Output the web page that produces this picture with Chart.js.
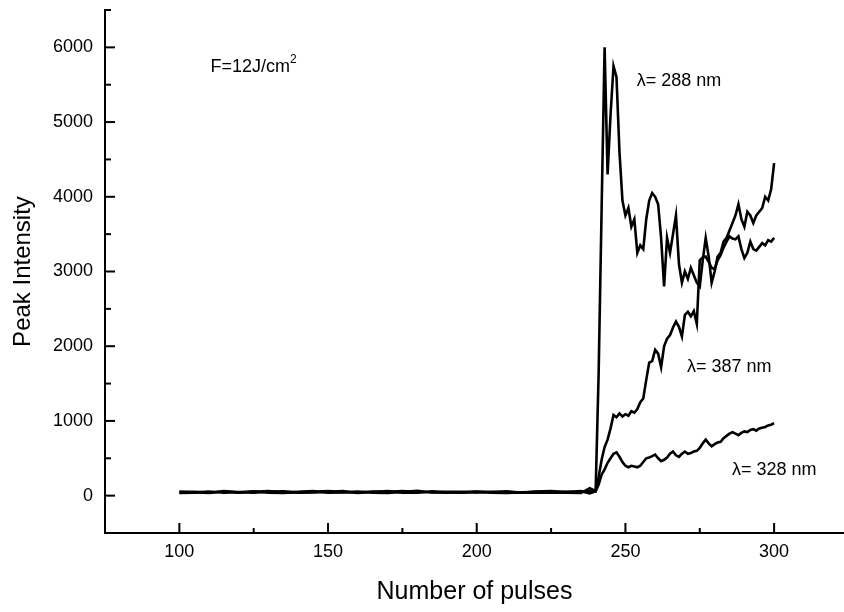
<!DOCTYPE html>
<html lang="en">
<head>
<meta charset="UTF-8">
<title>Peak Intensity vs Number of pulses</title>
<style>
    body { margin: 0; padding: 0; background: #fff; }
    #wrap { width: 844px; height: 612px; }
</style>
<script src="https://cdn.jsdelivr.net/npm/chart.js"></script>
</head>
<body>
<div id="wrap"><canvas id="chart" width="844" height="612"></canvas></div>
<script>
// pulse numbers (sparse on the flat part, every pulse after the onset)
const pulses = [100,105,110,115,120,125,130,135,140,145,150,155,160,165,170,175,180,185,190,195,
    200,205,210,215,220,225,230,235,238,
    240,241,242,243,244,245,246,247,248,249,250,251,252,253,254,255,256,257,258,259,
    260,261,262,263,264,265,266,267,268,269,270,271,272,273,274,275,276,277,278,279,
    280,281,282,283,284,285,286,287,288,289,290,291,292,293,294,295,296,297,298,299,300];

const peak288 = [45,50,42,55,48,40,52,58,45,50,60,47,42,55,50,62,48,45,53,50,
    44,52,48,46,50,45,52,48,60,
    80,1650,3850,6000,4300,5100,5750,5600,4600,3950,3750,3850,3600,3700,3250,3350,3300,3700,3950,4050,
    4000,3900,3450,2800,3450,3250,3500,3750,3100,2850,3000,2900,3050,2950,2850,2800,3150,3450,3200,2850,
    3000,3200,3250,3400,3450,3550,3650,3750,3900,3700,3600,3800,3750,3650,3750,3800,3850,4000,3950,4100,4450];

const peak387 = [35,40,55,38,45,58,40,35,50,62,38,44,56,40,35,48,65,42,38,45,
    55,40,36,44,38,42,40,35,100,
    60,250,480,650,750,900,1080,1050,1100,1060,1090,1070,1130,1110,1160,1250,1300,1550,1780,1800,
    1950,1900,1720,2000,2100,2150,2250,2330,2260,2130,2420,2460,2400,2470,2300,3150,3190,3200,3130,3050,
    3030,3150,3220,3320,3400,3470,3440,3430,3470,3300,3180,3250,3400,3300,3280,3330,3380,3350,3420,3400,3450];

const peak328 = [55,45,35,60,40,50,62,45,38,42,50,60,35,48,62,40,38,58,45,40,
    50,45,58,38,55,62,48,60,30,
    60,150,280,350,440,500,560,580,520,450,400,380,400,390,380,400,450,500,510,530,
    550,500,460,480,510,560,590,540,520,560,590,560,570,590,600,640,700,750,700,660,
    690,710,720,770,800,830,850,830,810,840,860,850,880,890,870,900,910,920,940,950,970];

const xTicks = [100, 150, 200, 250, 300];
const xMinorTicks = [125, 175, 225, 275];
const yTicks = [0, 1000, 2000, 3000, 4000, 5000, 6000];
const yMinorTicks = [500, 1500, 2500, 3500, 4500, 5500, 6500];

// text notes, anchored in data units
const notes = [
    { text: 'λ= 288 nm', x: 253.8, y: 5555 },
    { text: 'λ= 387 nm', x: 270.7, y: 1727 },
    { text: 'λ= 328 nm', x: 285.8, y: 348 }
];
const fluence = { text: 'F=12J/cm', sup: '2', x: 110.5, y: 5730 };

const FONT = "'Liberation Sans', Arial, sans-serif";

const series = [
    { label: 'λ = 288 nm', values: peak288 },
    { label: 'λ = 387 nm', values: peak387 },
    { label: 'λ = 328 nm', values: peak328 }
];

// ticks point into the plot, so they are drawn here from the scales
const inwardTicks = {
    id: 'inwardTicks',
    afterDraw(chart) {
        const { ctx, chartArea, scales: { x, y } } = chart;
        ctx.save();
        ctx.strokeStyle = '#000';
        ctx.lineWidth = 2;
        function seg(x1, y1, x2, y2) {
            ctx.beginPath();
            ctx.moveTo(x1, y1);
            ctx.lineTo(x2, y2);
            ctx.stroke();
        }
        xTicks.forEach(v => { const p = x.getPixelForValue(v); seg(p, chartArea.bottom, p, chartArea.bottom - 10); });
        xMinorTicks.forEach(v => { const p = x.getPixelForValue(v); seg(p, chartArea.bottom, p, chartArea.bottom - 5); });
        yTicks.forEach(v => { const p = y.getPixelForValue(v); seg(chartArea.left, p, chartArea.left + 10, p); });
        yMinorTicks.forEach(v => { const p = y.getPixelForValue(v); seg(chartArea.left, p, chartArea.left + 6, p); });

        ctx.fillStyle = '#000';
        ctx.textAlign = 'left';
        ctx.textBaseline = 'middle';
        ctx.font = '18px ' + FONT;
        notes.forEach(n => ctx.fillText(n.text, x.getPixelForValue(n.x), y.getPixelForValue(n.y)));

        const fx = x.getPixelForValue(fluence.x);
        const fy = y.getPixelForValue(fluence.y);
        ctx.fillText(fluence.text, fx, fy);
        const w = ctx.measureText(fluence.text).width;
        ctx.font = '12px ' + FONT;
        ctx.fillText(fluence.sup, fx + w, fy - 8);
        ctx.restore();
    }
};

const ctx = document.getElementById('chart').getContext('2d');
new Chart(ctx, {
    type: 'line',
    data: {
        datasets: series.map(s => ({
            label: s.label,
            data: pulses.map((p, i) => ({ x: p, y: s.values[i] })),
            borderColor: '#000',
            borderWidth: 2.6,
            pointRadius: 0,
            tension: 0,
            fill: false
        }))
    },
    options: {
        responsive: false,
        animation: false,
        layout: { padding: { top: 10, right: 0, bottom: 0, left: 0 } },
        plugins: { legend: { display: false }, tooltip: { enabled: false } },
        scales: {
            x: {
                type: 'linear',
                min: 75,
                max: 323.5,
                afterBuildTicks: s => { s.ticks = xTicks.map(v => ({ value: v })); },
                afterFit: s => { s.height = 79; s.paddingLeft = 0; s.paddingRight = 0; },
                grid: { display: false, drawTicks: false },
                border: { display: true, color: '#000', width: 2 },
                ticks: {
                    color: '#000', padding: 8, maxRotation: 0, autoSkip: false,
                    font: { family: FONT, size: 18 },
                    callback: v => String(v)
                },
                title: {
                    display: true, text: 'Number of pulses', color: '#000',
                    font: { family: FONT, size: 25 },
                    padding: { top: 0, bottom: 5 }
                }
            },
            y: {
                min: -500,
                max: 6500,
                afterBuildTicks: s => { s.ticks = yTicks.map(v => ({ value: v })); },
                afterFit: s => { s.width = 105; s.paddingTop = 0; s.paddingBottom = 0; },
                grid: { display: false, drawTicks: false },
                border: { display: true, color: '#000', width: 2 },
                ticks: {
                    color: '#000', padding: 12, autoSkip: false,
                    font: { family: FONT, size: 18 },
                    callback: v => String(v)
                },
                title: {
                    display: true, text: 'Peak Intensity', color: '#000',
                    font: { family: FONT, size: 24 },
                    padding: { top: 9, bottom: 0 }
                }
            }
        }
    },
    plugins: [inwardTicks]
});
</script>
</body>
</html>
